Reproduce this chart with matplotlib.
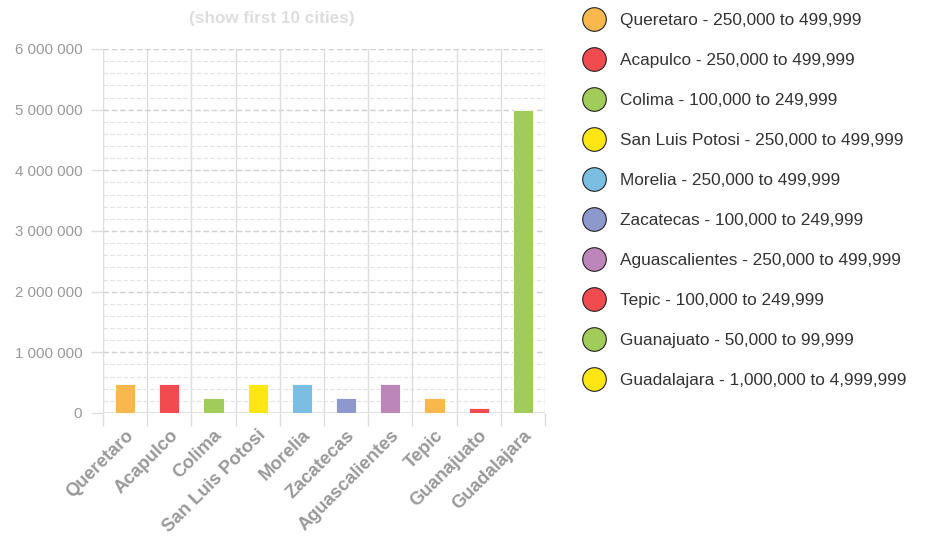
import numpy as np
from matplotlib import pyplot as plt
from matplotlib.lines import Line2D
from matplotlib.ticker import FuncFormatter, MultipleLocator

plt.rcParams['font.family'] = ['Liberation Sans', 'DejaVu Sans']

cities = ["Queretaro", "Acapulco", "Colima", "San Luis Potosi", "Morelia",
          "Zacatecas", "Aguascalientes", "Tepic", "Guanajuato", "Guadalajara"]
ranges = ["250,000 to 499,999", "250,000 to 499,999", "100,000 to 249,999",
          "250,000 to 499,999", "250,000 to 499,999", "100,000 to 249,999",
          "250,000 to 499,999", "100,000 to 249,999", "50,000 to 99,999",
          "1,000,000 to 4,999,999"]
population = [485000, 485000, 245000, 485000, 485000, 245000, 485000, 245000,
              80000, 4990000]

bar_colors = ["#f8b84c", "#f14a4f", "#a1cc5a", "#fee613", "#7bbee2",
              "#8d99cd", "#bd86ba", "#f8b84c", "#f14a4f", "#a1cc5a"]
legend_colors = ["#f8b84c", "#f14a4f", "#a1cc5a", "#fee613", "#7bbee2",
                 "#8d99cd", "#bd86ba", "#f14a4f", "#a1cc5a", "#fee613"]

fig = plt.figure(figsize=(9.28, 5.39), dpi=100)
ax = fig.add_axes([103 / 928, 1 - 413 / 539, 442 / 928, 364 / 539])

x = np.arange(len(cities))
ax.bar(x, population, width=0.46, color=bar_colors, edgecolor="white",
       linewidth=0.6, zorder=3)

ax.set_xlim(-0.5, len(cities) - 0.5)
ax.set_ylim(0, 6000000)
ax.yaxis.set_major_locator(MultipleLocator(1000000))
ax.yaxis.set_minor_locator(MultipleLocator(200000))
ax.yaxis.set_major_formatter(FuncFormatter(lambda v, p: f"{int(v):,}".replace(",", " ")))

ax.set_xticks(x)
ax.set_xticklabels(cities, rotation=45, ha="right", rotation_mode="anchor",
                   fontsize=13.2, fontweight="bold", color="#999999")
ax.set_xticks(np.arange(len(cities) + 1) - 0.5, minor=True)
ax.tick_params(axis="x", which="major", length=0, pad=10)
ax.tick_params(axis="x", which="minor", length=9, color="#dddddd", width=1)
ax.tick_params(axis="y", which="major", length=9, color="#dddddd", width=1,
               labelsize=10.8, labelcolor="#999999", pad=6)
ax.tick_params(axis="y", which="minor", length=0)

ax.grid(True, axis="y", which="minor", color="#e2e2e2", linestyle=(0, (4, 2)),
        linewidth=0.8, zorder=0)
ax.grid(True, axis="y", which="major", color="#d0d0d0", linestyle=(0, (4, 2)),
        linewidth=1, zorder=0)
ax.grid(True, axis="x", which="minor", color="#dddddd", linestyle="-",
        linewidth=1, zorder=0)
ax.axhline(0, color="#dddddd", linewidth=1.2, zorder=2)
for s in ["top", "right", "bottom", "left"]:
    ax.spines[s].set_visible(False)

fig.text(272 / 928, 1 - 18 / 539, "(show first 10 cities)", ha="center",
         va="center", fontsize=12.3, fontweight="bold", color="#dddddd")

handles = [Line2D([], [], marker="o", linestyle="none", markersize=17,
                  markerfacecolor=c, markeredgecolor="#222222",
                  markeredgewidth=0.8) for c in legend_colors]
labels = [f"{c} - {r}" for c, r in zip(cities, ranges)]
fig.legend(handles, labels, loc="upper left", bbox_to_anchor=(565 / 928, 1 - 1 / 539),
           frameon=False, fontsize=12.4, labelcolor="#333333",
           handletextpad=0.5, labelspacing=1.45, borderaxespad=0.3)

fig.savefig("out.png", dpi=100)
